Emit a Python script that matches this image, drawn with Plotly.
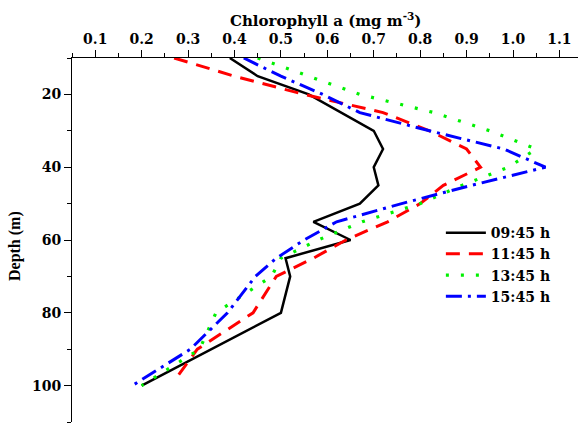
import plotly.graph_objects as go

# Data
depth_0945 = [10, 15, 20, 30, 35, 40, 45, 50, 55, 60, 65, 70, 80, 100]
chl_0945 = [0.39, 0.45, 0.56, 0.70, 0.72, 0.70, 0.71, 0.67, 0.57, 0.65, 0.51, 0.52, 0.50, 0.20]

depth_1145 = [10, 15, 20, 25, 30, 35, 40, 45, 50, 55, 60, 65, 70, 80, 90, 97]
chl_1145 = [0.27, 0.40, 0.55, 0.72, 0.82, 0.90, 0.93, 0.85, 0.80, 0.73, 0.64, 0.57, 0.49, 0.44, 0.32, 0.28]

depth_1345 = [10, 15, 20, 25, 30, 35, 40, 45, 50, 55, 60, 65, 70, 80, 90, 100]
chl_1345 = [0.45, 0.56, 0.67, 0.83, 0.95, 1.05, 0.99, 0.89, 0.80, 0.675, 0.58, 0.50, 0.48, 0.36, 0.325, 0.20]

depth_1545 = [10, 15, 20, 25, 30, 35, 40, 45, 50, 55, 60, 65, 70, 80, 90, 100]
chl_1545 = [0.42, 0.50, 0.59, 0.67, 0.82, 0.98, 1.07, 0.91, 0.76, 0.62, 0.55, 0.49, 0.445, 0.385, 0.305, 0.18]

series_names = ["09:45 h", "11:45 h", "13:45 h", "15:45 h"]

x_ticks = [0.1, 0.2, 0.3, 0.4, 0.5, 0.6, 0.7, 0.8, 0.9, 1.0, 1.1]
y_ticks = [20, 40, 60, 80, 100]

FONT_H = "DejaVu Serif"
FONT_V = "Liberation Serif"

fig = go.Figure()
styles = [
    dict(color="#000000", width=2.5, dash="solid"),
    dict(color="#ff0000", width=3, dash="14px,9px"),
    dict(color="#00f000", width=3.2, dash="3px,12px"),
    dict(color="#0000ff", width=3, dash="16px,6px,3px,6px"),
]
data = [(chl_0945, depth_0945), (chl_1145, depth_1145), (chl_1345, depth_1345), (chl_1545, depth_1545)]
for (x, y), name, st in zip(data, series_names, styles):
    fig.add_trace(go.Scatter(x=x, y=y, mode="lines", name=f"<b>{name}</b>", line=st))

fig.update_layout(
    width=580, height=423,
    margin=dict(l=72, r=2, t=58, b=1),
    paper_bgcolor="white", plot_bgcolor="white",
    font=dict(family=FONT_H, size=14, color="black"),
    showlegend=True,
    legend=dict(x=0.729, y=0.563, xanchor="left", yanchor="top",
                font=dict(family=FONT_H, size=14, color="black"),
                bgcolor="rgba(0,0,0,0)", itemwidth=40, tracegroupgap=0),
    annotations=[
        dict(text="<b>Chlorophyll a (mg m<sup>-3</sup>)</b>", xref="paper", yref="paper",
             x=0.5, y=1.105, xanchor="center", yanchor="middle", showarrow=False,
             font=dict(family=FONT_H, size=15, color="black")),
        dict(text="<b>Depth (m)</b>", xref="paper", yref="paper",
             x=-0.113, y=0.483, xanchor="center", yanchor="middle", showarrow=False,
             textangle=-90, font=dict(family=FONT_V, size=16, color="black")),
    ],
)
fig.update_xaxes(
    side="top", range=[0.05, 1.14], tickvals=x_ticks,
    ticktext=[f"<b>{v:.1f}</b>" for v in x_ticks],
    ticks="outside", ticklen=7, tickwidth=1, tickcolor="black",
    showline=True, linecolor="black", linewidth=1, showgrid=False, zeroline=False,
    minor=dict(dtick=0.05, tick0=0.05, ticks="outside", ticklen=4, tickcolor="black", showgrid=False),
    tickfont=dict(family=FONT_H, size=14, color="black"),
)
fig.update_yaxes(
    range=[110, 10], tickvals=y_ticks,
    ticktext=[f"<b>{v}</b>" for v in y_ticks],
    ticks="outside", ticklen=7, tickwidth=1, tickcolor="black",
    showline=True, linecolor="black", linewidth=1, showgrid=False, zeroline=False,
    minor=dict(dtick=10, tick0=10, ticks="outside", ticklen=4, tickcolor="black", showgrid=False),
    tickfont=dict(family=FONT_H, size=14, color="black"),
)

fig.write_html("out.html", config={"displayModeBar": False},
               post_script="document.body.style.margin='0';document.body.style.overflow='hidden';")
